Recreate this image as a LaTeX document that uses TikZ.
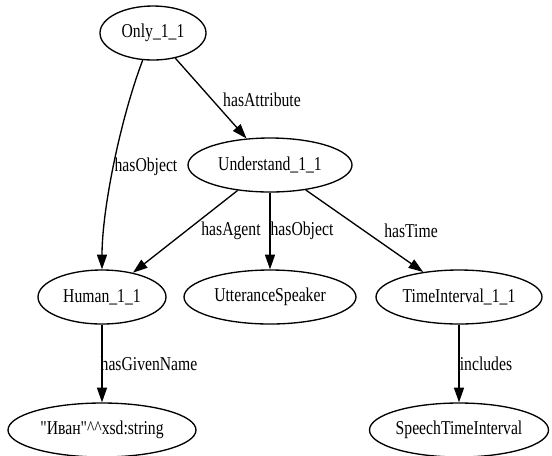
\documentclass[tikz,border=0pt]{standalone}
\usepackage{fontspec}
\setmainfont{Liberation Serif}[FakeStretch=0.8]
\newfontfamily\rawserif{Liberation Serif}[FakeStretch=0.8]
\usetikzlibrary{arrows.meta}
\usetikzlibrary{shapes.geometric}

\begin{document}
\begin{tikzpicture}[x=0.75pt,y=-0.75pt,
  concept/.style={ellipse, draw, line width=1pt, inner sep=0pt, minimum height=40.5pt, font=\fontsize{14.7}{16}\selectfont},
  rel/.style={line width=1pt, -{Triangle[length=11pt,width=7.5pt]}},
  lbl/.style={inner sep=0pt, font=\fontsize{14.7}{16}\selectfont}]
\useasboundingbox (0,0) rectangle (552,455);
%%% Draws concepts
% top
\node[concept, minimum width=79.5pt] (only) at (153,33) {Only\_1\_1};
\node[concept, minimum width=123pt] (understand) at (270,165) {Understand\_1\_1};
% middle row
\node[concept, minimum width=96pt] (human) at (102,297) {Human\_1\_1};
\node[concept, minimum width=129pt] (speaker) at (270,297) {UtteranceSpeaker};
\node[concept, minimum width=124.5pt] (interval) at (459,297) {TimeInterval\_1\_1};
% bottom row
\node[concept, minimum width=141pt, font=\rawserif\fontsize{14.7}{16}\selectfont] (name) at (102,430) {"Иван"\textasciicircum\textasciicircum xsd:string};
\node[concept, minimum width=133.5pt] (speech) at (459,430) {SpeechTimeInterval};
%%% Draws relations
\draw[rel] (only) .. controls (120,120) and (102,210) .. (human);
\draw[rel] (only) -- (understand);
\draw[rel] (understand) -- (human);
\draw[rel] (understand) -- (speaker);
\draw[rel] (understand) -- (interval);
\draw[rel] (human) -- (name);
\draw[rel] (interval) -- (speech);
% labels relations
\node[lbl] (l-attribute) at (262,100) {hasAttribute};
\node[lbl] (l-object1) at (146,167) {hasObject};
\node[lbl] (l-agent) at (231,231) {hasAgent};
\node[lbl] (l-object2) at (302,231) {hasObject};
\node[lbl] (l-time) at (411,231) {hasTime};
\node[lbl] (l-given) at (149,364) {hasGivenName};
\node[lbl] (l-includes) at (486,364) {includes};
\end{tikzpicture}
\end{document}
